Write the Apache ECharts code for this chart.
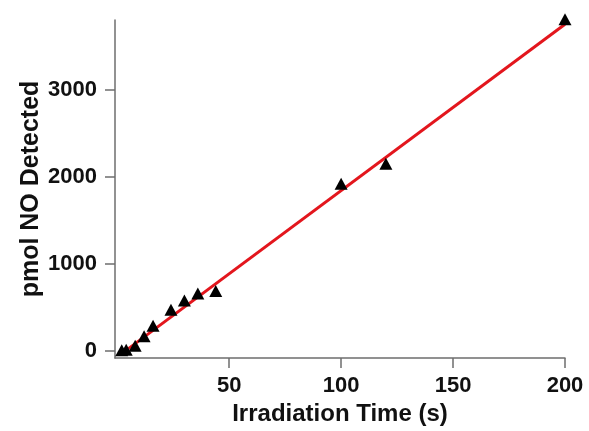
<!DOCTYPE html>
<html>
<head>
<meta charset="utf-8">
<script src="https://cdn.jsdelivr.net/npm/echarts@6/dist/echarts.min.js"></script>
<style>html,body{margin:0;padding:0;background:#fff;}#c{width:589px;height:431px;}</style>
</head>
<body>
<div id="c"></div>
<script>
var timeS = [2, 4, 8, 12, 16, 24, 30, 36, 44, 100, 120, 200];
var noPmol = [10, 15, 60, 170, 290, 475, 580, 660, 690, 1920, 2150, 3810];
var fitX = [5, 200];
var fitY = [28, 3752];
var xTicks = [50, 100, 150, 200];
var yTicks = [0, 1000, 2000, 3000];

var pts = timeS.map(function (t, i) { return [t, noPmol[i]]; });
var fit = fitX.map(function (t, i) { return [t, fitY[i]]; });
var font = 'Liberation Sans, Arial, Helvetica, sans-serif';
var axisCol = '#6e6e6e';
var plain = function (v) { return String(v); };

var chart = echarts.init(document.getElementById('c'), null, {renderer: 'canvas'});
chart.setOption({
  animation: false,
  backgroundColor: '#fff',
  grid: {left: 115, right: 24, top: 20, bottom: 72, containLabel: false},
  xAxis: {
    type: 'value', min: -1, max: 200,
    name: 'Irradiation Time (s)', nameLocation: 'middle', nameGap: 44, nameMoveOverlap: false,
    nameTextStyle: {fontFamily: font, fontWeight: 'bold', fontSize: 24, color: '#111'},
    axisLine: {show: true, onZero: false, lineStyle: {color: axisCol, width: 1.5}},
    axisTick: {show: true, length: 10, lineStyle: {color: axisCol, width: 1.5},
      customValues: xTicks},
    axisLabel: {fontFamily: font, fontWeight: 'bold', fontSize: 22, color: '#111', margin: 17,
      customValues: xTicks, formatter: plain},
    splitLine: {show: false}
  },
  yAxis: {
    type: 'value', min: -80, max: 3800,
    name: 'pmol NO Detected', nameLocation: 'middle', nameGap: 71, nameRotate: 90,
    nameMoveOverlap: false,
    nameTextStyle: {fontFamily: font, fontWeight: 'bold', fontSize: 25, color: '#111'},
    axisLine: {show: true, onZero: false, lineStyle: {color: axisCol, width: 1.5}},
    axisTick: {show: true, length: 10, lineStyle: {color: axisCol, width: 1.5},
      customValues: yTicks},
    axisLabel: {fontFamily: font, fontWeight: 'bold', fontSize: 22, color: '#111', margin: 18,
      customValues: yTicks, formatter: plain},
    splitLine: {show: false}
  },
  series: [
    {
      type: 'line', data: fit, symbol: 'none', z: 2, clip: false,
      lineStyle: {color: '#e3161d', width: 3}
    },
    {
      type: 'scatter', data: pts, symbol: 'triangle', symbolSize: [13, 12], z: 3, clip: false,
      itemStyle: {color: '#000', opacity: 1}
    }
  ]
});
</script>
</body>
</html>
